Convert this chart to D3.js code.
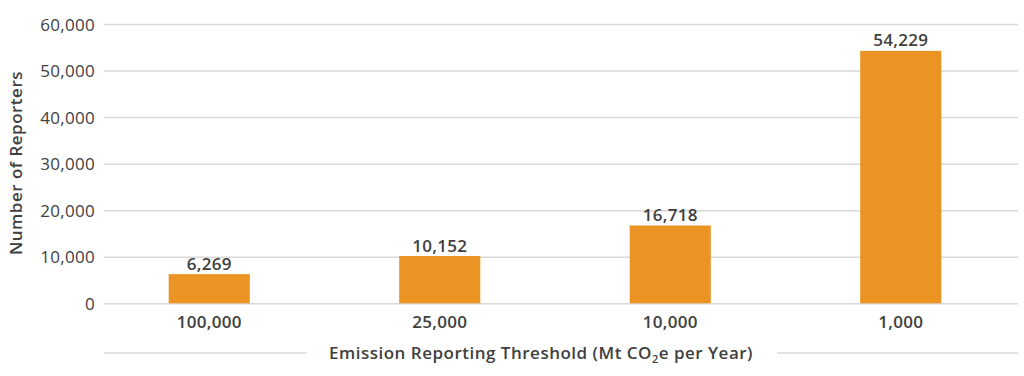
<!DOCTYPE html>
<html><head><meta charset="utf-8">
<script src="https://cdn.jsdelivr.net/npm/d3@7"></script>
<style>
html,body{margin:0;padding:0;background:#fff;}
svg text{font-family:"Open Sans","Lato",sans-serif;fill:#404040;}
</style></head>
<body><svg id="c" width="1024" height="376"></svg>
<script>
const categories = ["100,000","25,000","10,000","1,000"];
const values = [6269, 10152, 16718, 54229];
const yTicks = [0,10000,20000,30000,40000,50000,60000];
const yTitle = "Number of Reporters";

const svg = d3.select("#c");
const gridL = 104, gridR = 1018;
const x = d3.scaleBand().domain(categories).range([94, 1016]).paddingInner(0.648).paddingOuter(0.324);
const y = d3.scaleLinear().domain([0,60000]).range([303.3, 24]);
const fmt = d3.format(",");
const FS = 17;

// gridlines
const yAxis = d3.axisLeft(y).tickValues(yTicks).tickSize(-(gridR-gridL)).tickFormat(fmt);
const gy = svg.append("g").attr("transform", `translate(${gridL},0)`).call(yAxis);
gy.select(".domain").remove();
gy.selectAll(".tick line").attr("stroke","#d9d9d9").attr("stroke-width",1.5);
gy.selectAll(".tick text").attr("font-size",FS).attr("fill","#404040").attr("x",-9).attr("dy","0.36em")
  .attr("letter-spacing",0.3);

// bars
svg.append("g").selectAll("rect").data(values).join("rect")
  .attr("x",(d,i)=>x(categories[i])).attr("width",x.bandwidth())
  .attr("y",d=>y(d)).attr("height",d=>y(0)-y(d))
  .attr("fill","#EB9424");

// bar labels
svg.append("g").selectAll("text").data(values).join("text")
  .attr("x",(d,i)=>x(categories[i])+x.bandwidth()/2).attr("y",d=>y(d)-4.5)
  .attr("text-anchor","middle").attr("font-size",FS).attr("font-weight",600).attr("letter-spacing",0.3)
  .text(d=>fmt(d));

// x axis labels
const xAxis = d3.axisBottom(x).tickSize(0).tickPadding(13);
const gx = svg.append("g").attr("transform",`translate(0,${y(0)})`).call(xAxis);
gx.select(".domain").remove();
gx.selectAll(".tick text").attr("font-size",FS).attr("font-weight",600).attr("fill","#404040").attr("letter-spacing",0.3);

// x axis title with side lines
const tY = 353;
svg.append("line").attr("x1",gridL).attr("x2",307).attr("y1",tY).attr("y2",tY).attr("stroke","#d9d9d9").attr("stroke-width",1.5);
svg.append("line").attr("x1",777).attr("x2",gridR).attr("y1",tY).attr("y2",tY).attr("stroke","#d9d9d9").attr("stroke-width",1.5);
const t = svg.append("text").attr("x",541).attr("y",tY+6).attr("text-anchor","middle")
  .attr("font-size",FS).attr("font-weight",600).attr("letter-spacing",0.5);
t.append("tspan").text("Emission Reporting Threshold (Mt CO");
t.append("tspan").attr("font-size",11).attr("dy",4).text("2");
t.append("tspan").attr("dy",-4).text("e per Year)");

// y title
svg.append("text").attr("transform","translate(22,163) rotate(-90)")
  .attr("text-anchor","middle").attr("font-size",FS).attr("font-weight",600).attr("letter-spacing",0.5).text(yTitle);
</script></body></html>
